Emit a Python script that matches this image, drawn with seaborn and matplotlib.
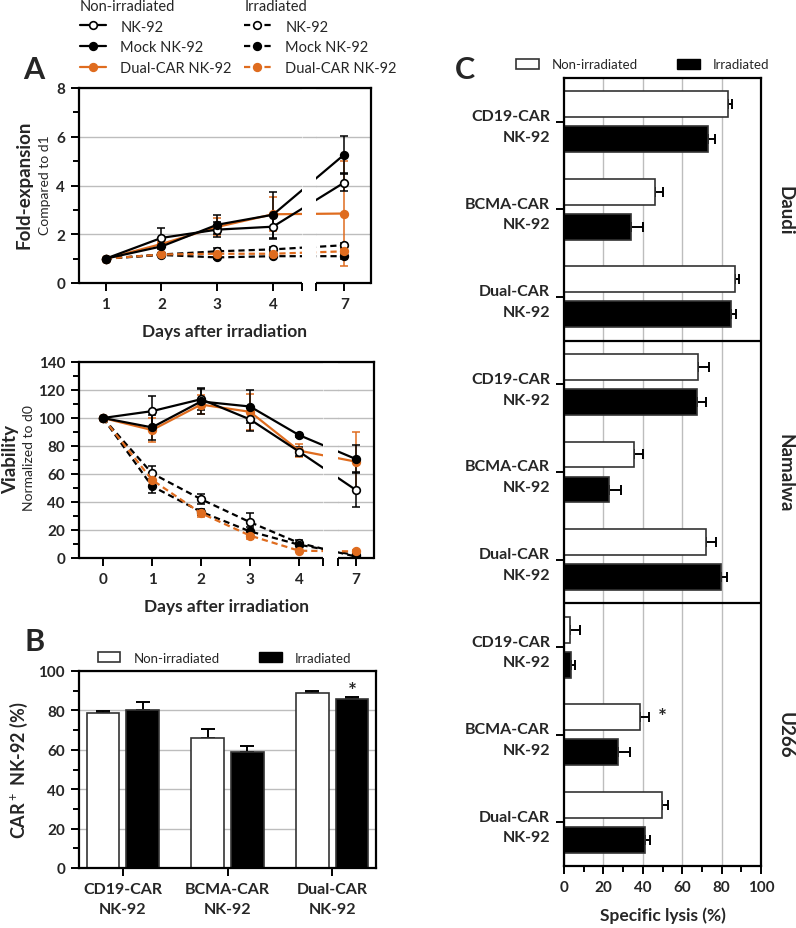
import numpy as np
import pandas as pd
import seaborn as sns
import matplotlib.pyplot as plt
from matplotlib.lines import Line2D
from matplotlib.patches import Patch

sns.set_theme(style="ticks")
plt.rcParams['font.family'] = ['Lato', 'DejaVu Sans']
plt.rcParams['mathtext.fontset'] = 'custom'
plt.rcParams['mathtext.rm'] = 'Lato'
plt.rcParams['mathtext.bf'] = 'Lato:bold'

ORANGE = "#DF6C1F"
GRID = "#BDBDBD"
DASH = (0, (2.8, 1.8))

# A (top): fold-expansion compared to d1
days_fold = [1, 2, 3, 4, 7]
fold_nk92 = [1.0, 1.85, 2.19, 2.31, 4.12]
fold_nk92_err = [0, 0.42, 0.3, 0.5, 0.35]
fold_mock = [1.0, 1.5, 2.39, 2.8, 5.27]
fold_mock_err = [0, 0.1, 0.4, 0.95, 0.75]
fold_dual = [1.0, 1.6, 2.3, 2.82, 2.85]
fold_dual_err = [0, 0.1, 0.35, 0.7, 2.15]
fold_nk92_irr = [1.0, 1.17, 1.3, 1.38, 1.55]
fold_nk92_irr_err = [0, 0.05, 0.15, 0.1, 0.1]
fold_mock_irr = [1.0, 1.15, 1.05, 1.1, 1.1]
fold_mock_irr_err = [0, 0.05, 0.05, 0.05, 0.1]
fold_dual_irr = [1.0, 1.17, 1.2, 1.2, 1.3]
fold_dual_irr_err = [0, 0.05, 0.1, 0.1, 0.1]

# A (bottom): viability normalized to d0
days_via = [0, 1, 2, 3, 4, 7]
via_nk92 = [100, 104.9, 113.4, 99, 76, 48.6]
via_nk92_err = [0, 11, 8, 8, 3, 12.5]
via_mock = [100, 93.3, 111.8, 108.2, 87.8, 70.7]
via_mock_err = [0, 9, 9, 12, 1.5, 10]
via_dual = [100, 91.4, 109.6, 104.4, 76.7, 68.8]
via_dual_err = [0, 8.5, 7, 13, 4.5, 21]
via_nk92_irr = [100, 60.5, 42, 25.6, 10.7, 1]
via_nk92_irr_err = [0, 5.5, 3.5, 6.5, 2, 1]
via_mock_irr = [100, 51.3, 33, 19, 9.5, 2]
via_mock_irr_err = [0, 5, 2, 3.5, 1, 1]
via_dual_irr = [100, 55.8, 32, 16, 5.2, 4.7]
via_dual_irr_err = [0, 4, 2.5, 2.5, 1, 1]

# B: CAR+ NK-92 (%)
constructs = ["CD19-CAR\nNK-92", "BCMA-CAR\nNK-92", "Dual-CAR\nNK-92"]
car_non = [78.5, 66, 89]
car_non_err = [1.2, 4.8, 0.6]
car_irr = [80, 59, 86]
car_irr_err = [4.5, 3, 1]

# C: specific lysis (%)
cells = ["Daudi", "Namalwa", "U266"]
lysis_non = [83, 46.2, 86.6, 68.2, 35.4, 72.1, 3.2, 38.7, 49.6]
lysis_non_err = [2.5, 3.9, 2.0, 5.6, 4.7, 4.9, 4.9, 4.4, 3.0]
lysis_irr = [73, 33.8, 85, 67.3, 23, 79.9, 3.6, 27.6, 41.3]
lysis_irr_err = [3.7, 6.3, 2.1, 4.8, 5.9, 2.8, 2.1, 5.9, 2.4]

W, H = 796, 929
fig = plt.figure(figsize=(W / 100, H / 100), dpi=100)


def box(l, t, r, b):
    return [l / W, 1 - b / H, (r - l) / W, (b - t) / H]


axA1 = fig.add_axes(box(79, 89, 371, 284))
axA2 = fig.add_axes(box(79, 363, 374, 559))
axB = fig.add_axes(box(79, 672, 376, 869))
axC = fig.add_axes(box(564, 79, 761, 867))


def style_ax(ax):
    for sp in ax.spines.values():
        sp.set_linewidth(1.6)
        sp.set_color("black")
        sp.set_zorder(4)
    ax.tick_params(which="both", direction="out", width=1.4, color="black",
                   labelsize=11, pad=4)
    ax.tick_params(which="major", length=6)
    ax.tick_params(which="minor", length=4)
    plt.setp(ax.get_xticklabels() + ax.get_yticklabels(), fontweight="bold")


def line_panel(ax, days, day7_pos, series, gap, xlim):
    xpos = [day7_pos if d == 7 else d for d in days]
    for vals, errs, color, ls, filled in series:
        ax.errorbar(xpos, vals, yerr=errs, fmt="none", ecolor=color,
                    elinewidth=1.1, capsize=3.2, capthick=1.1, zorder=2)
        sns.lineplot(x=xpos, y=vals, ax=ax, color=color, linestyle=ls, linewidth=1.6,
                     marker="o", markersize=5.5,
                     mfc=color if filled else "white",
                     mec=color if filled else "black", mew=1.2,
                     sort=False, estimator=None, zorder=2.5)
    ax.set_xticks(xpos)
    ax.set_xticklabels([str(d) for d in days])
    ax.set_xticks(gap, minor=True)
    ax.yaxis.grid(True, color=GRID, lw=1)
    ax.set_axisbelow(True)
    ax.axvspan(gap[0], gap[1], color="white", lw=0, zorder=3)
    inner = [v for v in ax.get_yticks() if ax.get_ylim()[0] < v < ax.get_ylim()[1]]
    ax.hlines(inner, gap[0], gap[1], color=GRID, lw=1, zorder=3.1)
    ax.spines["bottom"].set_visible(False)
    for a, b in [(xlim[0], gap[0]), (gap[1], xlim[1])]:
        ax.plot([a, b], [0, 0], transform=ax.get_xaxis_transform(), color="black",
                lw=1.6, clip_on=False, zorder=4, solid_capstyle="butt")
    ax.set_xlim(*xlim)
    ax.set_xlabel("Days after irradiation", fontsize=12.5, fontweight="bold", labelpad=9)
    ax.set_ylabel("")
    style_ax(ax)
    ax.tick_params(axis="x", which="minor", length=6)


# panel A top
axA1.set_ylim(0, 8)
axA1.set_yticks([0, 2, 4, 6, 8])
axA1.set_yticks([1, 3, 5, 7], minor=True)
line_panel(axA1, days_fold, 5.28, [
    (fold_nk92_irr, fold_nk92_irr_err, "black", DASH, False),
    (fold_mock_irr, fold_mock_irr_err, "black", DASH, True),
    (fold_dual_irr, fold_dual_irr_err, ORANGE, DASH, True),
    (fold_dual, fold_dual_err, ORANGE, "-", True),
    (fold_nk92, fold_nk92_err, "black", "-", False),
    (fold_mock, fold_mock_err, "black", "-", True),
], gap=(4.52, 4.77), xlim=(0.52, 5.76))
axA1.set_ylim(0, 8)

# panel A bottom
axA2.set_ylim(0, 140)
axA2.set_yticks(range(0, 141, 20))
axA2.set_yticks(range(10, 140, 20), minor=True)
line_panel(axA2, days_via, 5.16, [
    (via_nk92_irr, via_nk92_irr_err, "black", DASH, False),
    (via_mock_irr, via_mock_irr_err, "black", DASH, True),
    (via_dual_irr, via_dual_irr_err, ORANGE, DASH, True),
    (via_dual, via_dual_err, ORANGE, "-", True),
    (via_nk92, via_nk92_err, "black", "-", False),
    (via_mock, via_mock_err, "black", "-", True),
], gap=(4.49, 4.80), xlim=(-0.49, 5.53))
axA2.set_ylim(0, 140)

fig.text(24 / W, 1 - 185 / H, "Fold-expansion", rotation=90, ha="center", va="center",
         fontsize=13.5, fontweight="bold")
fig.text(45 / W, 1 - 185 / H, "Compared to d1", rotation=90, ha="center", va="center",
         fontsize=10)
fig.text(11 / W, 1 - 459 / H, "Viability", rotation=90, ha="center", va="center",
         fontsize=13.5, fontweight="bold")
fig.text(29 / W, 1 - 458 / H, "Normalized to d0", rotation=90, ha="center", va="center",
         fontsize=10)


def line_handle(color, ls, filled):
    return Line2D([], [], color=color, ls=ls, lw=1.6, marker="o", ms=5.5,
                  mfc=color if filled else "white",
                  mec=color if filled else "black", mew=1.2)


names = ["NK-92", "Mock NK-92", "Dual-CAR NK-92"]
for x0, title, ls in [(0.100, "Non-irradiated", "-"), (0.307, "Irradiated", DASH)]:
    hs = [line_handle("black", ls, False), line_handle("black", ls, True),
          line_handle(ORANGE, ls, True)]
    fig.legend(hs, names, title=title, loc="upper left", bbox_to_anchor=(x0, 1.0),
               frameon=False, fontsize=10.5, title_fontsize=10.5, alignment="left",
               handlelength=1.8, handletextpad=1.0, labelspacing=0.45,
               borderpad=0, borderaxespad=0)

# panel B
df_b = pd.DataFrame({
    "construct": constructs * 2,
    "cond": ["Non-irradiated"] * 3 + ["Irradiated"] * 3,
    "value": car_non + car_irr,
})
pal = {"Non-irradiated": "white", "Irradiated": "black"}
sns.barplot(df_b, x="construct", y="value", hue="cond", palette=pal, edgecolor="#333333",
            linewidth=1.2, width=0.76, gap=0.18, ax=axB, legend=False, zorder=2)
for cont, errs in zip(axB.containers, [car_non_err, car_irr_err]):
    for bar, e in zip(cont, errs):
        axB.errorbar(bar.get_x() + bar.get_width() / 2, bar.get_height(),
                     yerr=[[0], [e]], fmt="none", ecolor="black", elinewidth=1.4,
                     capsize=5, capthick=1.4, zorder=1.9)
star_bar = axB.containers[1][2]
axB.text(star_bar.get_x() + star_bar.get_width() / 2, 90, "*", ha="center", va="center",
         fontsize=15, fontweight="bold")
axB.set_ylim(0, 100)
axB.set_xlim(-0.42, 2.42)
axB.set_yticks(range(0, 101, 20))
axB.set_yticks(range(10, 100, 20), minor=True)
axB.yaxis.grid(True, color=GRID, lw=1)
axB.set_axisbelow(True)
axB.set_xlabel("")
axB.set_ylabel("CAR$^+$ NK-92 (%)", fontsize=13, fontweight="bold", labelpad=6)
style_ax(axB)
plt.setp(axB.get_xticklabels(), linespacing=1.6, fontsize=11.5)
bar_handles = [Patch(facecolor="white", edgecolor="#333333", lw=1.2),
               Patch(facecolor="black", edgecolor="black")]
axB.legend(bar_handles, ["Non-irradiated", "Irradiated"], ncol=2, loc="lower center",
           bbox_to_anchor=(0.49, 1.01), frameon=False, fontsize=9.5, columnspacing=3.0,
           handlelength=1.7, handleheight=0.8, handletextpad=1.0, borderaxespad=0)

# panel C
keys = [f"{c}|{k}" for c in cells for k in constructs]
df_c = pd.DataFrame({
    "key": keys * 2,
    "cond": ["Non-irradiated"] * 9 + ["Irradiated"] * 9,
    "value": lysis_non + lysis_irr,
})
sns.barplot(df_c, y="key", x="value", hue="cond", palette=pal, orient="h",
            edgecolor="#333333", linewidth=1.2, width=0.8, gap=0.26, ax=axC,
            legend=False, zorder=2)
for cont, errs in zip(axC.containers, [lysis_non_err, lysis_irr_err]):
    for bar, e in zip(cont, errs):
        axC.errorbar(bar.get_width(), bar.get_y() + bar.get_height() / 2,
                     xerr=[[0], [e]], fmt="none", ecolor="black", elinewidth=1.4,
                     capsize=3.6, capthick=1.4, zorder=1.9)
star_bar = axC.containers[0][7]
axC.text(50, star_bar.get_y() + star_bar.get_height() / 2, "*", ha="center",
         va="center", fontsize=15, fontweight="bold")
axC.set_xlim(0, 100)
axC.set_ylim(8.5, -0.5)
axC.set_xticks(range(0, 101, 20))
axC.set_xticks(range(10, 100, 20), minor=True)
axC.set_yticks(range(9))
axC.set_yticklabels(constructs * 3)
axC.xaxis.grid(True, color=GRID, lw=1)
axC.yaxis.grid(False)
axC.set_axisbelow(True)
for yb in [2.5, 5.5]:
    axC.axhline(yb, color="black", lw=1.6, zorder=4)
axC.set_ylabel("")
axC.set_xlabel("Specific lysis (%)", fontsize=12.5, fontweight="bold", labelpad=9)
for i, c in enumerate(cells):
    axC.text(1.12, 3 * i + 1, c, transform=axC.get_yaxis_transform(), rotation=270,
             ha="center", va="center", fontsize=13.5, fontweight="bold")
style_ax(axC)
plt.setp(axC.get_yticklabels(), linespacing=1.6, fontsize=11.5)
axC.legend(bar_handles, ["Non-irradiated", "Irradiated"], ncol=2, loc="lower center",
           bbox_to_anchor=(0.40, 1.003), frameon=False, fontsize=9.5, columnspacing=3.0,
           handlelength=1.7, handleheight=0.8, handletextpad=1.0, borderaxespad=0)

# panel letters
for x, y, s in [(23, 70, "A"), (25, 642, "B"), (455, 70, "C")]:
    fig.text(x / W, 1 - y / H, s, ha="left", va="center", fontsize=22, fontweight="bold")

fig.savefig("out.png", dpi=100)
